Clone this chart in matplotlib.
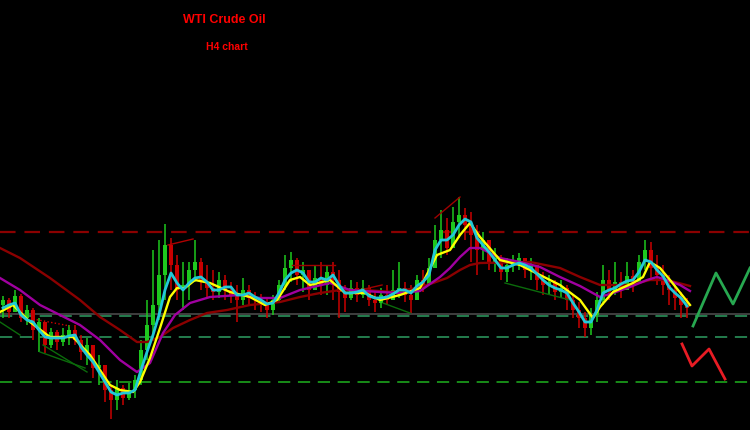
import matplotlib
matplotlib.use("Agg")
import matplotlib.pyplot as plt
import numpy as np

# H4 candles (price), open of each bar = close of previous bar
first_open = 51.25
close = [51.50, 50.90, 51.70, 50.60, 51.00, 50.00, 50.40, 49.25, 49.90, 49.40,
         49.75, 50.00, 49.50, 48.90, 49.25, 48.10, 48.25, 47.00, 46.50, 47.10,
         46.60, 47.00, 47.50, 49.00, 50.25, 51.25, 52.75, 54.25, 53.25, 52.00,
         52.25, 53.00, 53.40, 52.40, 52.10, 51.90, 52.50, 52.00, 51.75, 51.50,
         52.00, 51.60, 51.50, 51.25, 51.00, 51.50, 52.25, 53.10, 53.50, 52.75,
         53.00, 52.00, 52.60, 52.25, 52.90, 52.50, 51.90, 51.60, 52.10, 51.75,
         52.10, 51.50, 51.35, 51.75, 51.50, 52.00, 52.10, 51.75, 51.50, 52.50,
         52.25, 53.10, 54.50, 55.00, 54.10, 55.40, 55.75, 55.25, 54.75, 54.00,
         54.50, 53.40, 53.60, 52.90, 53.25, 53.40, 53.60, 53.00, 53.25, 52.50,
         52.25, 52.40, 51.90, 52.10, 51.50, 51.00, 50.60, 50.10, 50.75, 51.50,
         52.50, 51.90, 52.40, 52.00, 52.70, 52.40, 53.40, 54.00, 53.10, 52.75,
         52.25, 52.00, 51.60, 51.25, 51.10]
high = [51.70, 51.60, 52.00, 51.80, 51.25, 51.10, 50.60, 50.25, 50.10, 50.00,
        50.10, 50.25, 50.25, 49.75, 49.60, 49.00, 48.75, 48.00, 47.25, 47.50,
        47.25, 47.35, 47.75, 49.50, 51.50, 54.00, 54.50, 55.30, 54.60, 53.75,
        53.40, 53.40, 54.50, 53.60, 53.25, 53.00, 52.90, 52.75, 52.40, 52.25,
        52.60, 52.25, 51.90, 51.80, 51.60, 51.75, 52.50, 53.75, 53.90, 53.60,
        53.40, 53.00, 53.25, 53.40, 53.20, 53.40, 53.00, 52.25, 52.50, 52.40,
        52.50, 52.25, 51.90, 52.10, 52.25, 53.00, 53.40, 52.40, 52.25, 52.75,
        53.00, 53.60, 55.25, 56.00, 55.60, 56.15, 56.65, 56.10, 55.90, 55.25,
        54.90, 54.50, 54.10, 53.75, 53.60, 53.75, 53.85, 53.60, 53.60, 53.25,
        52.90, 52.75, 52.50, 52.50, 52.25, 51.75, 51.40, 50.90, 51.10, 51.90,
        53.25, 53.00, 53.40, 52.90, 53.40, 53.00, 53.75, 54.50, 54.40, 53.75,
        53.25, 52.75, 52.25, 51.90, 51.60]
low = [50.60, 50.60, 50.90, 50.40, 50.25, 49.50, 48.90, 48.85, 49.10, 49.00,
       49.20, 49.25, 49.25, 48.50, 48.25, 47.60, 47.25, 46.40, 45.55, 46.00,
       46.25, 46.50, 46.60, 47.25, 48.50, 49.50, 50.50, 51.50, 52.00, 51.50,
       51.00, 51.50, 52.40, 52.00, 51.60, 51.50, 51.60, 51.50, 51.35, 50.40,
       51.25, 51.25, 51.00, 50.90, 50.60, 50.75, 51.40, 52.00, 52.40, 52.25,
       51.90, 51.50, 52.00, 51.75, 51.75, 51.50, 50.60, 50.90, 51.50, 51.40,
       51.60, 51.20, 50.90, 51.10, 51.25, 51.50, 51.60, 51.40, 50.85, 51.75,
       51.90, 52.25, 53.10, 53.60, 53.75, 54.25, 54.60, 54.50, 53.40, 52.75,
       53.50, 53.00, 52.90, 52.50, 52.40, 52.90, 53.00, 52.60, 52.50, 52.00,
       51.75, 51.75, 51.50, 51.60, 51.00, 50.60, 50.10, 49.65, 49.75, 50.40,
       51.25, 51.50, 51.75, 51.60, 52.00, 51.90, 52.40, 53.00, 52.60, 52.25,
       51.75, 51.25, 51.00, 50.60, 50.60]

# fast moving average (cyan), one value per bar
ma_cyan = [51.10, 51.25, 51.35, 50.75, 50.50, 50.40, 50.00, 49.65, 49.60, 49.60,
           49.60, 49.70, 49.75, 49.15, 48.75, 48.40, 47.90, 47.40, 46.90, 46.75,
           46.85, 46.85, 47.00, 48.00, 48.90, 49.75, 50.75, 52.00, 52.85, 52.35,
           52.00, 52.35, 52.60, 52.65, 52.40, 52.00, 52.00, 52.15, 52.15, 51.75,
           51.75, 51.85, 51.65, 51.50, 51.30, 51.35, 51.85, 52.50, 52.85, 53.00,
           52.85, 52.40, 52.40, 52.60, 52.50, 52.75, 52.25, 51.85, 51.85, 51.90,
           52.00, 51.70, 51.60, 51.60, 51.65, 51.80, 52.00, 52.00, 51.85, 52.20,
           52.40, 52.75, 54.00, 54.50, 54.50, 54.75, 55.25, 55.55, 55.40, 54.60,
           54.25, 53.90, 53.50, 53.10, 53.10, 53.25, 53.35, 53.25, 53.10, 52.80,
           52.50, 52.25, 52.10, 52.00, 51.85, 51.35, 50.90, 50.40, 50.40, 51.00,
           51.85, 52.00, 52.10, 52.30, 52.45, 52.50, 52.90, 53.50, 53.40, 53.00,
           52.70, 52.15, 51.85, 51.60, 51.20]

# slower averages, read at points along the bar axis
yellow_x = [-0.5, 1.67, 4.5, 7.83, 11.67, 14.5, 17.83, 19.5, 21.67, 22.83,
            24.5, 26.17, 27.83, 29, 30.33, 32, 34.5, 37.83, 41.17, 43.67,
            45.67, 47.83, 49.5, 51.17, 54.5, 57, 60.33, 62.83, 66.17, 69.5,
            72.33, 74.5, 76.17, 77.83, 79.5, 82.83, 86.17, 89.5, 92.83, 96.17,
            98.33, 99.5, 101.67, 105, 106.67, 107.83, 109.5, 111.17, 114.5]
yellow_y = [50.90, 51.25, 50.40, 49.65, 49.65, 48.75, 47.25, 47.00, 46.90, 47.40,
            48.60, 50.10, 51.65, 52.10, 52.10, 52.50, 52.35, 51.90, 51.65, 51.25,
            51.50, 52.50, 52.65, 52.25, 52.50, 51.85, 51.85, 51.50, 51.75, 52.10,
            53.75, 54.00, 54.75, 55.35, 54.65, 53.50, 53.25, 52.75, 52.25, 51.50,
            50.60, 51.15, 51.90, 52.35, 52.65, 53.40, 53.10, 52.50, 51.25]

purple_x = [-0.5, 2.83, 6.17, 9.5, 12.83, 16.17, 19.5, 22.33, 24.5, 26.67,
            28.67, 31.17, 34.5, 39.5, 42.83, 46.17, 49.5, 54.5, 57.83, 62.83,
            66.17, 69.5, 72.83, 74.5, 76.17, 77.83, 79.5, 82.83, 86.17, 89.5,
            92.83, 96.17, 99.5, 101.67, 104.5, 107.33, 109, 110.67, 112.83, 114.5]
purple_y = [52.60, 52.00, 51.25, 50.75, 50.25, 49.50, 48.50, 47.90, 48.35, 49.85,
            50.75, 51.35, 51.65, 51.75, 51.60, 51.60, 52.00, 52.35, 52.00, 51.90,
            51.85, 51.95, 52.65, 53.10, 53.65, 54.10, 54.10, 53.60, 53.40, 53.15,
            52.65, 52.20, 51.65, 51.85, 52.15, 52.50, 52.65, 52.50, 52.25, 51.95]

darkred_x = [-0.5, 2.83, 7.83, 12.83, 16.17, 19.5, 22.33, 24, 26.17, 28.33,
             31.17, 34, 37.33, 41.17, 46.17, 49.5, 52.83, 56.17, 60.33, 65,
             69, 71.67, 74, 76.17, 77.83, 79.5, 87.83, 92.83, 96.17, 99.5,
             104.5, 107.83, 110.67, 114.5]
darkred_y = [54.10, 53.60, 52.60, 51.50, 50.65, 50.00, 49.40, 49.40, 49.65, 50.10,
             50.50, 50.85, 51.00, 51.25, 51.40, 51.65, 51.85, 52.00, 52.00, 51.90,
             52.10, 52.35, 52.60, 53.00, 53.25, 53.35, 53.40, 53.10, 52.65, 52.25,
             52.25, 52.50, 52.50, 52.20]

# horizontal levels
resistance = 54.90
grey_level = 50.80
support_levels = [50.70, 49.65]
low_support = 47.40

# thin pattern lines drawn on the chart: (x0, y0, x1, y1, colour, style)
pattern_lines = [
    (-0.5, 50.40, 2.83, 49.75, "#0b6b0b", "-"),
    (6.67, 49.25, 14.0, 47.90, "#0b6b0b", "-"),
    (6.17, 48.90, 13.67, 48.10, "#0b6b0b", "-"),
    (5.0, 50.55, 11.17, 50.20, "#d00000", ":"),
    (27.5, 54.25, 31.67, 54.55, "#b00000", "-"),
    (48.17, 53.25, 55.33, 53.25, "#a00000", "-"),
    (59.5, 52.00, 63.17, 52.25, "#a00000", "-"),
    (72.0, 55.60, 76.17, 56.65, "#a00000", "-"),
    (63.33, 51.35, 67.83, 50.85, "#0b6b0b", "-"),
    (83.67, 52.35, 94.5, 51.50, "#0b6b0b", "-"),
]

# forecast arrows on the right
up_x = [115.0, 118.83, 121.67, 124.5]
up_y = [50.20, 52.85, 51.30, 53.10]
down_x = [113.17, 114.83, 117.67, 120.33]
down_y = [49.30, 48.20, 49.05, 47.55]

fig = plt.figure(figsize=(7.5, 4.3), dpi=100, facecolor="black")
ax = fig.add_axes([0, 0, 1, 1])
ax.set_facecolor("black")
ax.set_xlim(-0.5, 124.5)
ax.set_ylim(45.0, 66.5)
ax.axis("off")

# levels
ax.axhline(resistance, color="#8b0000", lw=1.6, ls=(0, (7, 4)))
ax.axhline(grey_level, color="#4a4a4a", lw=1.2)
for lvl in support_levels:
    ax.axhline(lvl, color="#2e9e62", lw=1.1, ls=(0, (8, 5)))
ax.axhline(low_support, color="#1fb21f", lw=1.1, ls=(0, (8, 5)))

# candles
idx = np.arange(len(close))
opens = np.array([first_open] + close[:-1])
closes = np.array(close)
up = closes >= opens
cols = np.where(up, "#1ec81e", "#c80000")
ax.vlines(idx, low, high, colors=cols, lw=1.1, zorder=3)
ax.bar(idx, closes - opens, bottom=opens, width=0.6, color=cols, zorder=3)

for x0, y0, x1, y1, c, s in pattern_lines:
    ax.plot([x0, x1], [y0, y1], color=c, lw=1.0, ls=s, zorder=4)

# averages
ax.plot(darkred_x, darkred_y, color="#8b0000", lw=1.7, zorder=5)
ax.plot(purple_x, purple_y, color="#a000a0", lw=1.7, zorder=5)
ax.plot(yellow_x, yellow_y, color="#ffff00", lw=1.7, zorder=6)
ax.plot(idx, ma_cyan, color="#22c8d8", lw=2.0, zorder=6)

# forecast zigzags
ax.plot(up_x, up_y, color="#27a850", lw=2.0, zorder=6)
ax.plot(down_x, down_y, color="#e81c24", lw=2.0, zorder=6)

fig.text(0.2987, 0.9535, "WTI Crude Oil", color="#ff0000", fontsize=9,
         fontweight="bold", family="Liberation Sans", ha="center", va="center")
fig.text(0.3027, 0.8907, "H4 chart", color="#ff0000", fontsize=7.5,
         fontweight="bold", family="Liberation Sans", ha="center", va="center")

fig.savefig("out.png", dpi=100, facecolor="black")
